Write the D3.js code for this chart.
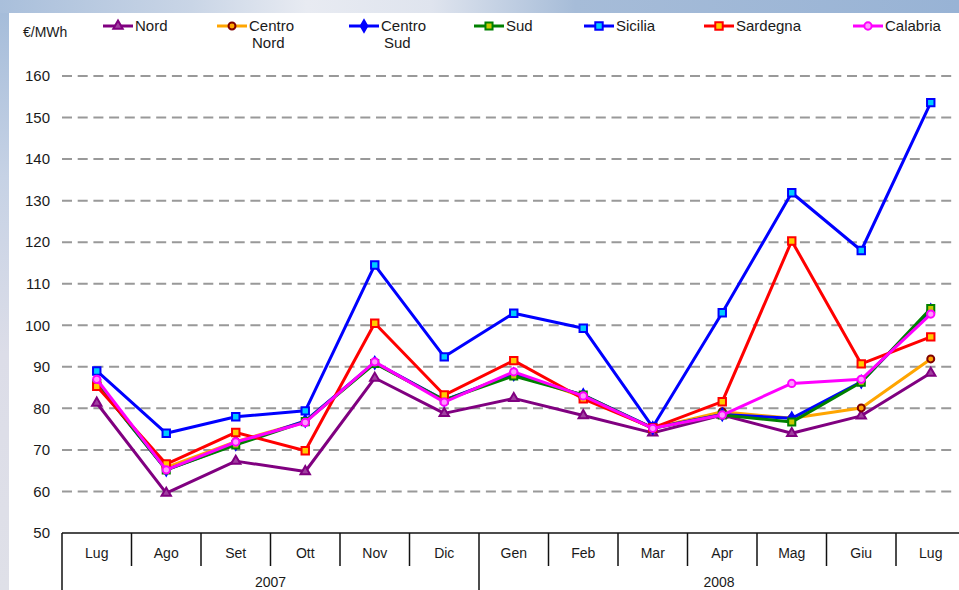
<!DOCTYPE html>
<html><head><meta charset="utf-8">
<script src="https://cdn.jsdelivr.net/npm/d3@7"></script>
<style>
html,body{margin:0;padding:0;background:#fff;}
svg{display:block;font-family:"Liberation Sans",Arial,sans-serif;}
</style></head>
<body>
<svg id="c" width="959" height="590"></svg>
<script>
const months = ["Lug","Ago","Set","Ott","Nov","Dic","Gen","Feb","Mar","Apr","Mag","Giu","Lug"];
const years = [{label:"2007", from:0, to:6},{label:"2008", from:6, to:13}];
const yTicks = [50,60,70,80,90,100,110,120,130,140,150,160];
const unitLabel = "€/MWh";

const nord       = [81.3, 59.6, 67.3, 64.8, 87.3, 78.8, 82.4, 78.3, 74.1, 78.4, 74.0, 78.2, 88.5];
const centroNord = [86.0, 65.8, 72.0, 76.8, 91.0, 81.8, 88.5, 82.8, 75.2, 79.2, 77.6, 80.1, 91.9];
const centroSud  = [86.0, 65.2, 71.4, 77.0, 91.0, 82.0, 88.2, 83.2, 75.3, 78.5, 77.6, 86.4, 103.6];
const sud        = [86.0, 65.2, 71.2, 76.8, 90.8, 82.0, 87.8, 83.2, 75.2, 78.4, 76.7, 86.3, 104.0];
const sicilia    = [89.0, 74.0, 78.0, 79.4, 114.5, 92.4, 102.9, 99.3, 75.5, 103.0, 131.9, 118.0, 153.6];
const sardegna   = [85.3, 66.6, 74.2, 69.8, 100.5, 83.2, 91.5, 82.3, 75.3, 81.6, 120.3, 90.7, 97.2];
const calabria   = [87.0, 65.2, 71.9, 76.6, 91.2, 81.5, 88.8, 83.0, 75.2, 78.4, 86.0, 87.0, 102.7];

const series = [
  {name:["Nord"], values:nord, line:"#800080", sym:d3.symbolTriangle, size:38, stroke:"#800080", fill:"#a040a0", lx:103},
  {name:["Centro","Nord"], values:centroNord, line:"#ffa500", sym:d3.symbolCircle, size:38, stroke:"#800000", fill:"#ffa500", lx:217},
  {name:["Centro","Sud"], values:centroSud, line:"#0000ff", sym:d3.symbolDiamond, size:38, stroke:"#0000ff", fill:"#0000ff", lx:349},
  {name:["Sud"], values:sud, line:"#008000", sym:d3.symbolSquare, size:50, stroke:"#008000", fill:"#c8c800", lx:474},
  {name:["Sicilia"], values:sicilia, line:"#0000ff", sym:d3.symbolSquare, size:55, stroke:"#0000ff", fill:"#00ccff", lx:584},
  {name:["Sardegna"], values:sardegna, line:"#ff0000", sym:d3.symbolSquare, size:55, stroke:"#ff0000", fill:"#ffcc00", lx:704},
  {name:["Calabria"], values:calabria, line:"#ff00ff", sym:d3.symbolCircle, size:42, stroke:"#ff00ff", fill:"#ff99ff", lx:853}
];

const svg = d3.select("#c");
const defs = svg.append("defs");
const gTop = defs.append("linearGradient").attr("id","gtop").attr("x1","0").attr("x2","1").attr("y1","0").attr("y2","0");
[["0%","#a9bfdb"],["20%","#c9d5e6"],["32%","#e8ebf2"],["45%","#dfe4ee"],["60%","#a6bcd8"],["100%","#98b3d5"]].forEach(s=>gTop.append("stop").attr("offset",s[0]).attr("stop-color",s[1]));
const gLeft = defs.append("linearGradient").attr("id","gleft").attr("x1","0").attr("x2","0").attr("y1","0").attr("y2","1");
[["0%","#a3bbd9"],["30%","#c6d2e5"],["60%","#dcdde8"],["100%","#dfe0e8"]].forEach(s=>gLeft.append("stop").attr("offset",s[0]).attr("stop-color",s[1]));

svg.append("rect").attr("x",0).attr("y",0).attr("width",959).attr("height",590).attr("fill","url(#gleft)");
svg.append("rect").attr("x",0).attr("y",0).attr("width",959).attr("height",13).attr("fill","url(#gtop)");
svg.append("rect").attr("x",9).attr("y",13).attr("width",950).attr("height",577).attr("fill","#ffffff");

const x = d3.scaleBand().domain(d3.range(months.length)).range([62, 965.5]).padding(0);
const y = d3.scaleLinear().domain([50,160]).range([533,76]);
const cx = i => x(i) + x.bandwidth()/2;

// grid
const grid = svg.append("g");
grid.selectAll("line").data(yTicks.filter(t=>t>50)).join("line")
  .attr("x1",62).attr("x2",955).attr("y1",d=>y(d)).attr("y2",d=>y(d))
  .attr("stroke","#999").attr("stroke-width",2).attr("stroke-dasharray","10,5.7");

// y axis labels
const yAxis = d3.axisLeft(y).tickValues(yTicks).tickSize(0).tickPadding(0).tickFormat(d3.format("d"));
const ya = svg.append("g").attr("transform","translate(50,0)").call(yAxis);
ya.select(".domain").remove();
ya.selectAll("text").attr("font-size",15).attr("fill","#1a1a1a").attr("font-family","Liberation Sans, Arial, sans-serif");

svg.append("text").attr("x",23).attr("y",37).attr("font-size",14).attr("fill","#1a1a1a").text(unitLabel);

// category table
const tbl = svg.append("g").attr("stroke","#111").attr("stroke-width",1.5);
tbl.append("line").attr("x1",62).attr("x2",959).attr("y1",533).attr("y2",533);
tbl.append("line").attr("x1",62).attr("x2",62).attr("y1",533).attr("y2",590);
tbl.selectAll(".sep").data(d3.range(1,months.length)).join("line").attr("class","sep")
  .attr("x1",d=>x(d)).attr("x2",d=>x(d)).attr("y1",533).attr("y2",d=> d===6 ? 590 : 566);

svg.append("g").selectAll("text").data(months).join("text")
  .attr("x",(d,i)=>cx(i)).attr("y",558).attr("text-anchor","middle").attr("font-size",14).attr("fill","#1a1a1a")
  .text(d=>d);
svg.append("g").selectAll("text").data(years).join("text")
  .attr("x",d=>(x(d.from) + Math.min(x(d.to-1)+x.bandwidth(), 959))/2)
  .attr("y",587).attr("text-anchor","middle").attr("font-size",14).attr("fill","#1a1a1a").text(d=>d.label);

// lines
const line = d3.line().x((d,i)=>cx(i)).y(d=>y(d));
const plot = svg.append("g");
series.forEach(s=>{
  plot.append("path").datum(s.values).attr("d",line).attr("fill","none")
    .attr("stroke",s.line).attr("stroke-width",3).attr("stroke-linejoin","round");
  plot.append("g").selectAll("path").data(s.values).join("path")
    .attr("transform",(d,i)=>`translate(${cx(i)},${y(d)})`)
    .attr("d",d3.symbol().type(s.sym).size(s.size))
    .attr("fill",s.fill).attr("stroke",s.stroke).attr("stroke-width",2);
});

// legend
const lg = svg.append("g");
series.forEach(s=>{
  const g = lg.append("g");
  g.append("line").attr("x1",s.lx).attr("x2",s.lx+30).attr("y1",26).attr("y2",26).attr("stroke",s.line).attr("stroke-width",3);
  g.append("path").attr("transform",`translate(${s.lx+15},26)`).attr("d",d3.symbol().type(s.sym).size(s.size))
    .attr("fill",s.fill).attr("stroke",s.stroke).attr("stroke-width",2);
  s.name.forEach((t,k)=>{
    g.append("text").attr("x",s.lx+32+(k?3:0)).attr("y",31+k*17).attr("font-size",15).attr("fill","#1a1a1a").text(t);
  });
});
</script>
</body></html>
